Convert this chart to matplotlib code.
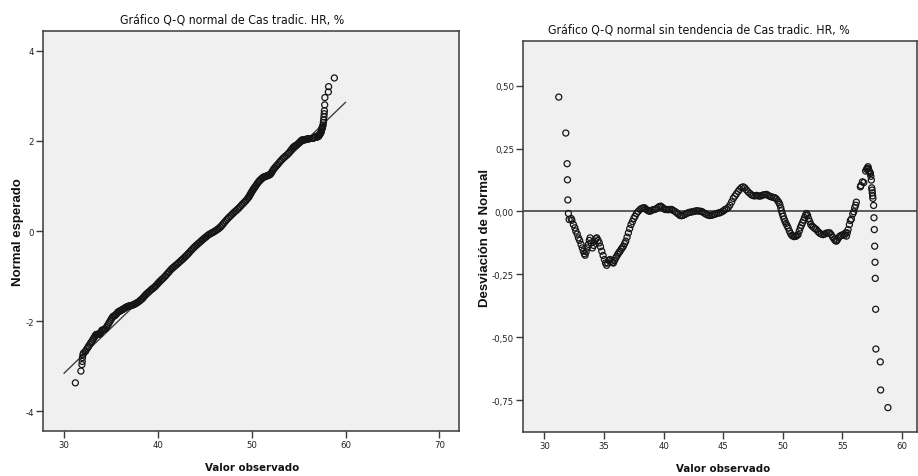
import matplotlib
matplotlib.use("Agg")
import matplotlib.pyplot as plt
import numpy as np
from matplotlib import font_manager
import os

# ---------------- data ----------------
# observed values (Cas tradic. HR, %) and their deviation from normal
valor_observado = [
    31.20, 31.79, 31.90, 31.93, 31.96, 32.01, 32.07,
    32.24, 32.30, 32.43, 32.55, 32.63, 32.75, 32.85, 32.95, 33.07, 33.17,
    33.27, 33.35, 33.41, 33.50, 33.58, 33.69, 33.76, 33.83, 33.92, 34.02,
    34.12, 34.22, 34.32, 34.39, 34.50, 34.60, 34.70, 34.81, 34.92, 35.03,
    35.12, 35.22, 35.30, 35.40, 35.50, 35.60, 35.70, 35.78, 35.88, 35.97,
    36.06, 36.16, 36.25, 36.34, 36.44, 36.53, 36.62, 36.72, 36.82, 36.93,
    37.04, 37.15, 37.26, 37.38, 37.49, 37.60, 37.72, 37.85, 38.02, 38.15,
    38.27, 38.38, 38.50, 38.62, 38.74, 38.85, 38.97, 39.10, 39.27, 39.40,
    39.55, 39.67, 39.77, 39.90, 40.02, 40.13, 40.25, 40.38, 40.50, 40.67,
    40.80, 40.95, 41.09, 41.22, 41.37, 41.51, 41.63, 41.76, 41.90, 42.05,
    42.20, 42.35, 42.50, 42.62, 42.77, 42.90, 43.04, 43.18, 43.30, 43.45,
    43.60, 43.75, 43.88, 44.02, 44.15, 44.30, 44.45, 44.60, 44.72, 44.85,
    45.00, 45.12, 45.27, 45.41, 45.55, 45.70, 45.84, 45.97, 46.10, 46.25,
    46.38, 46.52, 46.67, 46.80, 46.94, 47.08, 47.23, 47.37, 47.51, 47.65,
    47.79, 47.93, 48.07, 48.21, 48.35, 48.49, 48.63, 48.77, 48.91, 49.05,
    49.19, 49.32, 49.45, 49.58, 49.67, 49.74, 49.82, 49.88, 49.95, 50.02,
    50.10, 50.18, 50.26, 50.35, 50.44, 50.55, 50.65, 50.75, 50.85, 50.95,
    51.07, 51.17, 51.27, 51.37, 51.46, 51.55, 51.64, 51.73, 51.82, 51.90,
    51.98, 52.07, 52.15, 52.25, 52.34, 52.45, 52.57, 52.69, 52.81, 52.95,
    53.08, 53.22, 53.37, 53.50, 53.65, 53.80, 53.93, 54.05, 54.18, 54.30,
    54.40, 54.49, 54.58, 54.68, 54.78, 54.90, 55.04, 55.15, 55.25,
    55.33, 55.40, 55.47, 55.58, 55.66, 55.75, 55.86, 55.94, 56.02, 56.10,
    56.16, 56.50, 56.54, 56.67, 56.79, 56.94, 57.02, 57.08, 57.14, 57.18,
    57.22, 57.26, 57.30, 57.34, 57.38, 57.42, 57.45, 57.48, 57.50, 57.53,
    57.55, 57.61, 57.64, 57.67, 57.70, 57.73, 57.75, 57.78, 57.80, 58.17,
    58.20, 58.81,
]
desviacion = [
    0.455, 0.312, 0.190, 0.126, 0.046, -0.008, -0.032,
    -0.028, -0.035, -0.052, -0.065, -0.078, -0.090, -0.105, -0.115, -0.131, -0.145,
    -0.158, -0.168, -0.174, -0.160, -0.145, -0.131, -0.115, -0.105, -0.125, -0.145,
    -0.135, -0.118, -0.108, -0.105, -0.115, -0.125, -0.140, -0.158, -0.175, -0.191,
    -0.205, -0.214, -0.205, -0.195, -0.191, -0.198, -0.203, -0.205, -0.195, -0.185,
    -0.178, -0.170, -0.163, -0.158, -0.150, -0.144, -0.138, -0.128, -0.118, -0.102,
    -0.085, -0.068, -0.052, -0.040, -0.028, -0.019, -0.008, 0.000, 0.008, 0.012,
    0.014, 0.015, 0.010, 0.005, 0.002, 0.001, 0.004, 0.007, 0.008, 0.012,
    0.017, 0.020, 0.021, 0.016, 0.011, 0.008, 0.008, 0.007, 0.008, 0.008,
    0.004, 0.000, -0.005, -0.010, -0.016, -0.017, -0.015, -0.012, -0.009, -0.005,
    -0.003, -0.002, 0.000, 0.001, 0.003, 0.002, 0.001, 0.000, -0.003, -0.008,
    -0.012, -0.015, -0.016, -0.015, -0.013, -0.011, -0.008, -0.006, -0.005, -0.002,
    0.002, 0.007, 0.011, 0.015, 0.025, 0.038, 0.052, 0.061, 0.070, 0.080,
    0.088, 0.095, 0.098, 0.094, 0.086, 0.078, 0.072, 0.066, 0.063, 0.062,
    0.064, 0.062, 0.061, 0.063, 0.066, 0.067, 0.068, 0.064, 0.060, 0.058,
    0.056, 0.055, 0.050, 0.042, 0.035, 0.028, 0.015, 0.003, -0.008, -0.019,
    -0.030, -0.040, -0.048, -0.056, -0.065, -0.078, -0.088, -0.095, -0.098, -0.100,
    -0.099, -0.096, -0.092, -0.078, -0.065, -0.055, -0.045, -0.035, -0.024, -0.015,
    -0.008, -0.015, -0.028, -0.040, -0.052, -0.058, -0.063, -0.068, -0.072, -0.080,
    -0.086, -0.090, -0.092, -0.090, -0.086, -0.085, -0.085, -0.092, -0.102, -0.110,
    -0.116, -0.118, -0.112, -0.104, -0.098, -0.095, -0.092, -0.095, -0.085,
    -0.098, -0.085, -0.072, -0.052, -0.036, -0.030, -0.010, -0.001, 0.015, 0.025,
    0.037, 0.098, 0.103, 0.118, 0.115, 0.161, 0.168, 0.172, 0.178, 0.170,
    0.162, 0.158, 0.155, 0.151, 0.140, 0.125, 0.094, 0.085, 0.074, 0.062,
    0.052, 0.024, -0.025, -0.072, -0.138, -0.202, -0.266, -0.389, -0.547, -0.598,
    -0.710, -0.780,
]
media = 45.75
desv_tipica = 4.99

x_ticks_qq = [30, 40, 50, 60, 70]
y_ticks_qq = [-4, -2, 0, 2, 4]
y_labels_qq = ["-4", "-2", "0", "2", "4"]
x_ticks_dt = [30, 35, 40, 45, 50, 55, 60]
y_ticks_dt = [-0.75, -0.50, -0.25, 0.0, 0.25, 0.50]
y_labels_dt = ["-0,75", "-0,50", "-0,25", "0,00", "0,25", "0,50"]
linea_x = [30, 60]

titulo_qq = "Gráfico Q-Q normal de Cas tradic. HR, %"
titulo_dt = "Gráfico Q-Q normal sin tendencia de Cas tradic. HR, %"
etiqueta_x = "Valor observado"
etiqueta_y_qq = "Normal esperado"
etiqueta_y_dt = "Desviación de Normal"

# ---------------- derived ----------------
x = np.array(valor_observado)
d = np.array(desviacion)
z_esperado = (x - media) / desv_tipica - d
linea_z = (np.array(linea_x) - media) / desv_tipica

# ---------------- fonts ----------------
files = [f.fname for f in font_manager.fontManager.ttflist]

def find(cands):
    for c in cands:
        for p in files:
            if os.path.basename(p).lower() == c.lower():
                return p
    return None

cond_reg = find(["LiberationSansNarrow-Regular.ttf", "DejaVuSansCondensed.ttf"])
cond_bold = find(["LiberationSansNarrow-Bold.ttf", "DejaVuSansCondensed-Bold.ttf"])
arial_bold = find(["LiberationSans-Bold.ttf"])

def fp(path, size, fallback_weight="normal"):
    if path:
        return font_manager.FontProperties(fname=path, size=size)
    return font_manager.FontProperties(family="Liberation Sans", size=size * 0.9,
                                       weight=fallback_weight)

W, H = 918, 477
fig = plt.figure(figsize=(W / 100, H / 100), dpi=100)
fig.patch.set_facecolor("white")

def px_axes(l, t, r, b):
    return fig.add_axes([l / W, 1 - b / H, (r - l) / W, (b - t) / H])

BG = "#f0f0f0"
SP = "#3a3a3a"
MK = "#151515"
tick_fp = fp(cond_reg, 6.8)

def style(ax):
    ax.set_facecolor(BG)
    for s in ax.spines.values():
        s.set_color(SP)
        s.set_linewidth(1.1)
    ax.tick_params(direction="out", length=5, width=1.0, color=SP,
                   top=False, right=False, pad=1.5)
    for lab in ax.get_xticklabels() + ax.get_yticklabels():
        lab.set_fontproperties(tick_fp)
        lab.set_color("#222222")

# ---- left: Q-Q normal ----
ax1 = px_axes(43, 32, 459, 432)
ax1.plot(linea_x, linea_z, color="#404040", lw=1.0, zorder=2)
ax1.scatter(x, z_esperado, s=19, facecolors="none", edgecolors=MK,
            linewidths=0.9, zorder=3)
ax1.set_xlim(27.75, 72.1)
ax1.set_ylim(-4.44, 4.44)
ax1.set_xticks(x_ticks_qq)
ax1.set_xticklabels([str(v) for v in x_ticks_qq])
ax1.set_yticks(y_ticks_qq)
ax1.set_yticklabels(y_labels_qq)
style(ax1)

# ---- right: detrended ----
ax2 = px_axes(523, 42, 917, 433)
ax2.axhline(0, color="#505050", lw=1.3, zorder=2)
ax2.scatter(x, d, s=19, facecolors="none", edgecolors=MK,
            linewidths=0.9, zorder=3)
ax2.set_xlim(28.2, 61.25)
ax2.set_ylim(-0.877, 0.678)
ax2.set_xticks(x_ticks_dt)
ax2.set_xticklabels([str(v) for v in x_ticks_dt])
ax2.set_yticks(y_ticks_dt)
ax2.set_yticklabels(y_labels_dt)
style(ax2)

# ---- texts ----
title_fp = fp(cond_reg, 8.8)
xl_fp = fp(cond_bold, 8.2, "bold")
yl_fp = fp(arial_bold, 9.5, "bold")

fig.text(232 / W, 1 - 20 / H, titulo_qq, ha="center", va="center",
         fontproperties=title_fp, color="#111111")
fig.text(699 / W, 1 - 30 / H, titulo_dt, ha="center", va="center",
         fontproperties=title_fp, color="#111111")
fig.text(252 / W, 1 - 468 / H, etiqueta_x, ha="center", va="center",
         fontproperties=xl_fp, color="#111111")
fig.text(723 / W, 1 - 469 / H, etiqueta_x, ha="center", va="center",
         fontproperties=xl_fp, color="#111111")
fig.text(18 / W, 1 - 232 / H, etiqueta_y_qq, ha="center", va="center",
         rotation=90, fontproperties=yl_fp, color="#111111")
fig.text(485 / W, 1 - 238 / H, etiqueta_y_dt, ha="center", va="center",
         rotation=90, fontproperties=yl_fp, color="#111111")

fig.savefig("out.png", dpi=100, facecolor="white")
